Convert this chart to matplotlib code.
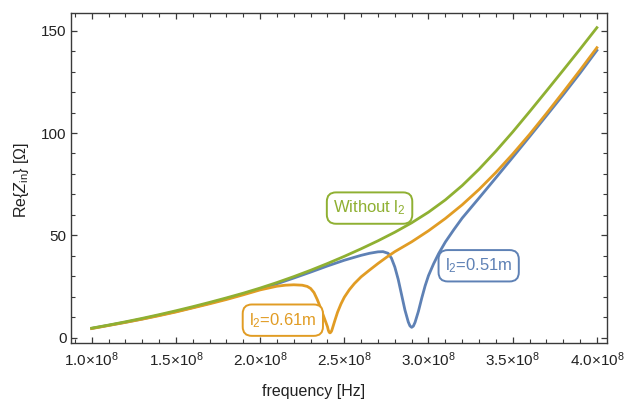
import numpy as np
import matplotlib
matplotlib.use("Agg")
import matplotlib.pyplot as plt
from matplotlib.ticker import MultipleLocator, FuncFormatter

plt.rcParams['font.family'] = ['Liberation Sans', 'DejaVu Sans']
plt.rcParams['mathtext.fontset'] = 'custom'
plt.rcParams['mathtext.rm'] = 'Liberation Sans'
plt.rcParams['mathtext.it'] = 'Liberation Sans:italic'

# frequencies in units of 1e8 Hz, Re{Z_in} in Ohm
f_without = [1.0, 1.1, 1.2, 1.3, 1.4, 1.5, 1.6, 1.7, 1.8, 1.9, 2.0,
             2.1, 2.2, 2.3, 2.4, 2.5, 2.6, 2.7, 2.8, 2.9, 3.0,
             3.1, 3.2, 3.3, 3.4, 3.5, 3.6, 3.7, 3.8, 3.9, 4.0]
re_without = [4.6, 6.1, 7.7, 9.4, 11.2, 13.1, 15.1, 17.2, 19.4, 21.7, 24.2,
              26.9, 29.8, 32.9, 36.2, 39.7, 43.4, 47.3, 51.5, 56.1, 61.3,
              67.3, 74.3, 82.3, 91.1, 100.5, 110.4, 120.5, 130.7, 141.0, 151.5]

f_051 = [1.0, 1.1, 1.2, 1.3, 1.4, 1.5, 1.6, 1.7, 1.8, 1.9, 2.0,
         2.1, 2.2, 2.3, 2.4, 2.5, 2.6, 2.65, 2.70, 2.73, 2.76, 2.78,
         2.80, 2.82, 2.84, 2.86, 2.88, 2.89, 2.90, 2.91, 2.92, 2.94,
         2.96, 2.98, 3.00, 3.03, 3.06, 3.10, 3.15, 3.20, 3.3, 3.4,
         3.5, 3.6, 3.7, 3.8, 3.9, 4.0]
re_051 = [4.5, 6.0, 7.5, 9.1, 10.9, 12.7, 14.7, 16.8, 19.0, 21.3, 23.7,
          26.3, 29.1, 32.0, 35.0, 37.8, 40.2, 41.2, 41.9, 42.0, 41.2, 38.8,
          34.5, 28.5, 21.0, 13.5, 7.6, 5.7, 5.0, 5.6, 7.4, 12.8,
          19.3, 25.3, 30.3, 36.0, 41.0, 46.7, 52.7, 58.4, 68.2, 78.1,
          88.1, 98.2, 108.4, 118.7, 129.3, 140.4]

f_061 = [1.0, 1.1, 1.2, 1.3, 1.4, 1.5, 1.6, 1.7, 1.8, 1.9, 2.0,
         2.1, 2.15, 2.20, 2.25, 2.28, 2.30, 2.32, 2.34, 2.36, 2.38,
         2.40, 2.405, 2.41, 2.415, 2.42, 2.425, 2.43, 2.445, 2.46, 2.48,
         2.50, 2.53, 2.56, 2.60, 2.65, 2.70, 2.75, 2.80, 2.9, 3.0,
         3.1, 3.2, 3.3, 3.4, 3.5, 3.6, 3.7, 3.8, 3.9, 4.0]
re_061 = [4.4, 5.9, 7.4, 9.0, 10.7, 12.5, 14.5, 16.5, 18.6, 20.9, 23.3,
          25.1, 25.6, 25.8, 25.6, 25.0, 24.0, 22.0, 18.5, 14.3, 9.8,
          5.3, 3.6, 2.6, 2.3, 2.6, 3.3, 4.6, 8.6, 12.4, 16.4,
          19.7, 23.4, 26.4, 29.7, 33.0, 36.2, 39.2, 42.0, 46.8, 52.2,
          58.2, 64.9, 72.4, 80.7, 89.7, 99.3, 109.5, 120.0, 130.7, 141.7]

labels = [r"l$_{\mathrm{2}}$=0.51m", r"l$_{\mathrm{2}}$=0.61m", r"Without l$_{\mathrm{2}}$"]
label_f = [3.298, 2.135, 2.65]
label_re = [35.1, 8.5, 63.3]

blue = '#5E81B5'
orange = '#E19C24'
green = '#8FB032'

fig = plt.figure(figsize=(6.35, 4.01), dpi=100)
ax = fig.add_axes([0.1118, 0.1439, 0.8441, 0.8249])

ax.plot(np.array(f_051) * 1e8, re_051, color=blue, lw=2.0, solid_joinstyle='round')
ax.plot(np.array(f_061) * 1e8, re_061, color=orange, lw=2.0, solid_joinstyle='round')
ax.plot(np.array(f_without) * 1e8, re_without, color=green, lw=2.0, solid_joinstyle='round')

for txt, fx, ry, col in zip(labels, label_f, label_re, [blue, orange, green]):
    ax.text(fx * 1e8, ry, txt, color=col, fontsize=12, ha='center', va='center',
            bbox=dict(boxstyle='round,pad=0.38,rounding_size=0.55', fc='white',
                      ec=col, lw=1.4))

ax.set_xlim(0.877e8, 4.06e8)
ax.set_ylim(-2.8, 158.9)

ax.xaxis.set_major_locator(MultipleLocator(0.5e8))
ax.xaxis.set_minor_locator(MultipleLocator(0.1e8))
ax.yaxis.set_major_locator(MultipleLocator(50))
ax.yaxis.set_minor_locator(MultipleLocator(10))
ax.xaxis.set_major_formatter(FuncFormatter(lambda x, pos: r"%.1f$\times$10$^{8}$" % (x / 1e8)))

frame_col = '#3a3a3a'
for s in ax.spines.values():
    s.set_color(frame_col)
    s.set_linewidth(1.0)
ax.tick_params(which='both', direction='in', top=True, right=True,
               color=frame_col, labelsize=11, labelcolor='#222222')
ax.tick_params(which='major', length=4.5, width=0.9)
ax.tick_params(which='minor', length=2.6, width=0.8)
ax.tick_params(axis='x', pad=5)
ax.tick_params(axis='y', pad=3)

ax.set_xlabel("frequency [Hz]", fontsize=11.5, color='#222222')
ax.xaxis.label.set_va('center')
ax.xaxis.set_label_coords(0.453, -0.147)
ax.set_ylabel(r"Re{$Z_{\mathrm{in}}$} [Ω]", fontsize=11.5, color='#222222')
ax.yaxis.label.set_va('center')
ax.yaxis.set_label_coords(-0.092, 0.494)

fig.savefig("out.png", dpi=100)
